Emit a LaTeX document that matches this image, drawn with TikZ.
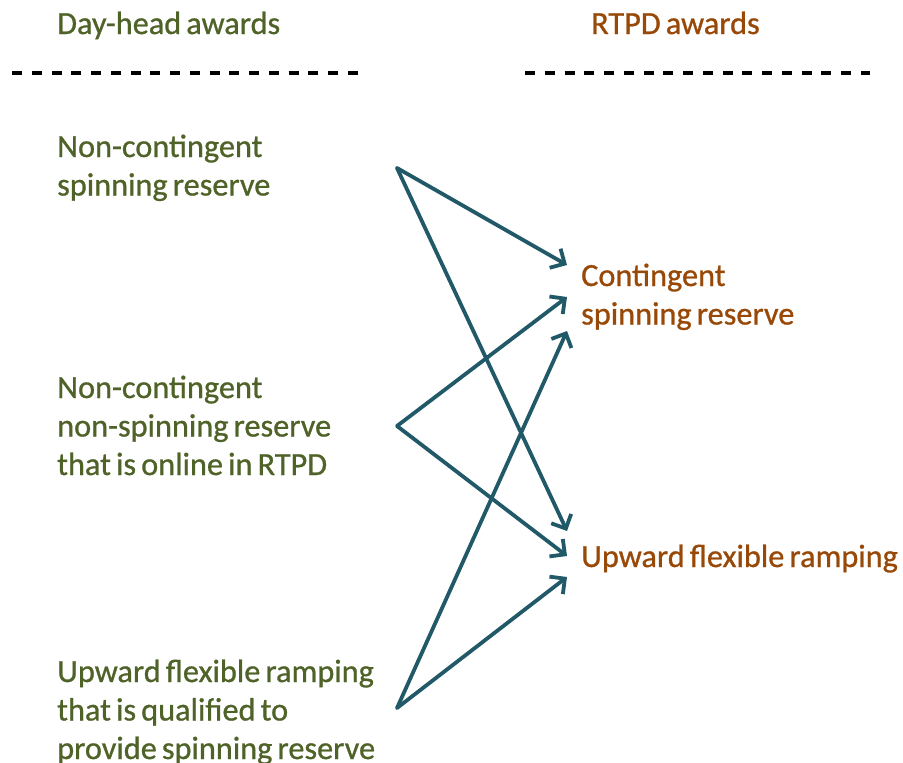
\documentclass[tikz,border=0pt]{standalone}
\usepackage{fontspec}
\setmainfont{Carlito}[FakeBold=0.8, WordSpace=0.7]
\usetikzlibrary{arrows.meta}
\definecolor{dagreen}{HTML}{4F6228}
\definecolor{rtorange}{HTML}{984807}
\definecolor{arrteal}{HTML}{215968}
\tikzset{
  lbl/.style={anchor=base west, inner sep=0pt, text width=345pt, align=flush left,
    font=\fontsize{32.3}{38.5}\selectfont},
  dalbl/.style={lbl, text=dagreen},
  rtlbl/.style={lbl, text=rtorange},
  sepline/.style={black, line width=3.4pt, dash pattern=on 10pt off 9.76pt},
  link/.style={arrteal, line width=3.8pt, line cap=round, line join=round,
    -{Straight Barb[length=11pt,width=22pt,line width=3.8pt]}}
}
\begin{document}
\begin{tikzpicture}[x=1pt,y=-1pt]
\useasboundingbox (0,0) rectangle (903,763);
% headers
\node[dalbl] (hda) at (57,34) {Day-head awards};
\node[rtlbl] (hrt) at (591,34) {RTPD awards};
% separators
\coordinate (l1) at (12,73); \coordinate (l2) at (358,73);
\coordinate (r1) at (525,73); \coordinate (r2) at (870,73);
\draw[sepline] (l1) -- (l2);
\draw[sepline] (r1) -- (r2);
% left labels
\node[dalbl] (a1) at (57,157) {Non-contingent\\spinning reserve};
\node[dalbl] (a2) at (57,398) {Non-contingent\\non-spinning reserve\\that is online in RTPD};
\node[dalbl] (a3) at (57,682) {Upward flexible ramping\\that is qualified to\\provide spinning reserve};
% right labels
\node[rtlbl] (b1) at (581,286) {Contingent\\spinning reserve};
\node[rtlbl] (b2) at (581,567) {Upward flexible ramping};
% connector end points
\coordinate (s1) at (397,168);
\coordinate (s2) at (397,426);
\coordinate (s3) at (397,708);
\coordinate (c1) at (567,265);
\coordinate (c2) at (567,297);
\coordinate (c3) at (567,331);
\coordinate (u1) at (567,531);
\coordinate (u2) at (567,556);
\coordinate (u3) at (567,577);
\draw[link] (s1) -- (c1);
\draw[link] (s1) -- (u1);
\draw[link] (s2) -- (c2);
\draw[link] (s2) -- (u2);
\draw[link] (s3) -- (c3);
\draw[link] (s3) -- (u3);
\end{tikzpicture}
\end{document}
